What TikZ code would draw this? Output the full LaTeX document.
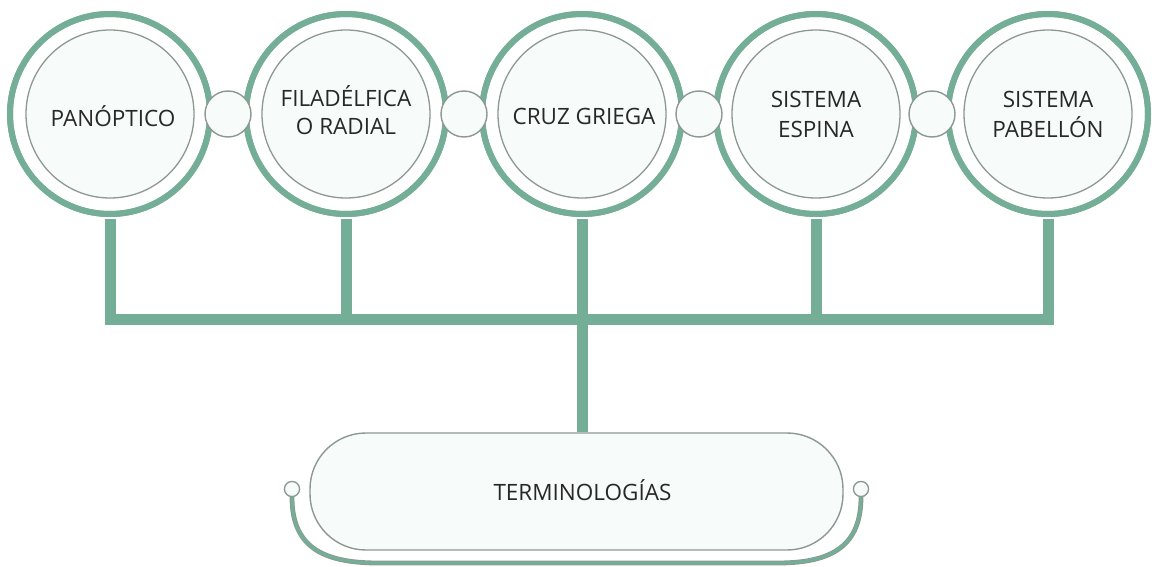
\documentclass[tikz,border=0pt]{standalone}
\usepackage{fontspec}
\setmainfont{Open Sans}
\usetikzlibrary{calc}
\definecolor{ringgreen}{RGB}{116,174,150}
\definecolor{edgegray}{RGB}{140,152,146}
\definecolor{mint}{RGB}{247,252,250}
\definecolor{txt}{RGB}{40,40,40}
\tikzset{
  outerring/.style={circle, draw=ringgreen, line width=6pt, minimum size=200pt, inner sep=0pt},
  innerdisc/.style={circle, draw=edgegray, line width=1.3pt, fill=mint, minimum size=168pt, inner sep=0pt},
  linkdisc/.style={circle, draw=edgegray, line width=1.4pt, fill=mint, minimum size=46pt, inner sep=0pt},
  knob/.style={circle, draw=edgegray, line width=1.2pt, fill=mint, minimum size=15pt, inner sep=0pt},
  bar/.style={draw=ringgreen, line width=11pt, line join=miter},
  termbox/.style={rectangle, rounded corners=56pt, draw=edgegray, line width=1.4pt, fill=mint,
    minimum width=533pt, minimum height=117pt},
  band/.style={draw=edgegray, line width=0.8pt, double=ringgreen, double distance=3.2pt},
  label/.style={text=txt, align=center, font=\fontsize{22.5}{30}\selectfont, inner sep=0pt}
}
\begin{document}
\begin{tikzpicture}[x=1pt,y=-1pt]
\useasboundingbox (0,0) rectangle (1152,567);
\node[outerring] (o1) at (110,114) {};
\node[outerring] (o2) at (346,114) {};
\node[outerring] (o3) at (582,114) {};
\node[outerring] (o4) at (816,114) {};
\node[outerring] (o5) at (1048,114) {};
\coordinate (bus) at (582,319);
\node[termbox] (term) at (576.5,491.5) {};
\draw[bar] ([yshift=-2pt]o1.south) |- (bus) -| ([yshift=-2pt]o5.south);
\draw[bar] ([yshift=-2pt]o2.south) -- (o2.south |- bus);
\draw[bar] ([yshift=-2pt]o4.south) -- (o4.south |- bus);
\draw[bar] ([yshift=-2pt]o3.south) -- (o3.south |- term.north);
\node[outerring] at (o1) {};
\node[outerring] at (o2) {};
\node[outerring] at (o3) {};
\node[outerring] at (o4) {};
\node[outerring] at (o5) {};
\node[innerdisc] (i1) at (o1) {};
\node[innerdisc] (i2) at (o2) {};
\node[innerdisc] (i3) at (o3) {};
\node[innerdisc] (i4) at (o4) {};
\node[innerdisc] (i5) at (o5) {};
\node[label] (t1) at ([shift={(3,2)}]i1) {PANÓPTICO};
\node[label, font=\fontsize{22.5}{27.5}\selectfont] (t2) at ([shift={(0,-4)}]i2) {FILADÉLFICA\\O RADIAL};
\node[label] (t3) at ([shift={(2,2)}]i3) {CRUZ GRIEGA};
\node[label] (t4) at ([shift={(0,0)}]i4) {SISTEMA\\ESPINA};
\node[label] (t5) at ([shift={(0,0)}]i5) {SISTEMA\\PABELLÓN};
\node[label] (t6) at ([shift={(6,-1)}]term) {TERMINOLOGÍAS};
\node[linkdisc] (l12) at ($(o1)!0.5!(o2)$) {};
\node[linkdisc] (l23) at ($(o2)!0.5!(o3)$) {};
\node[linkdisc] (l34) at ($(o3)!0.5!(o4)$) {};
\node[linkdisc] (l45) at ($(o4)!0.5!(o5)$) {};
\node[knob] (kl) at (292,489) {};
\node[knob] (kr) at (861,489) {};
\draw[band] (kl.south) .. controls (292,545) and (320,563) .. (378,563) -- (778,563)
  .. controls (833,563) and (861,545) .. (kr.south);
\node[knob] at (kl) {};
\node[knob] at (kr) {};
\end{tikzpicture}
\end{document}
